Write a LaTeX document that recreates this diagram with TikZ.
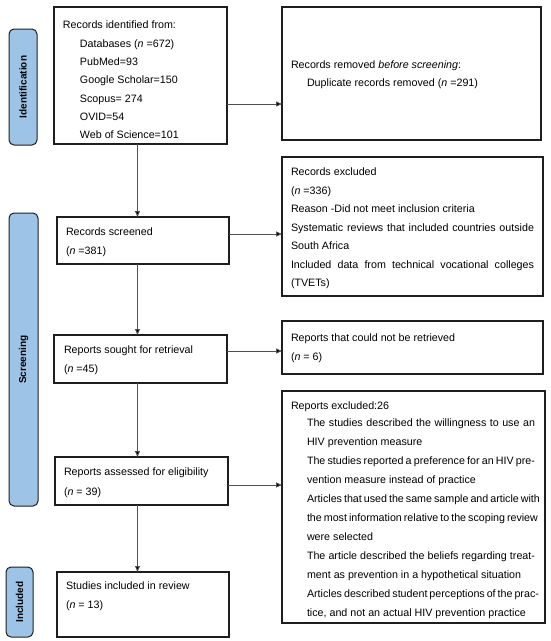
\documentclass[tikz,border=0pt]{standalone}
\usepackage{fontspec}
\setmainfont{Liberation Sans}
\usetikzlibrary{arrows.meta}
\definecolor{lblue}{RGB}{157,196,231}
\definecolor{bord}{RGB}{30,30,30}
\definecolor{conn}{RGB}{80,80,80}
\tikzset{
  box/.style={draw=bord, line width=1.1pt, inner sep=0pt, outer sep=0pt, fill=white},
  phase/.style={draw=bord, line width=1pt, fill=lblue, rounded corners=5pt, inner sep=0pt, outer sep=0pt},
  phasetxt/.style={rotate=90, font=\bfseries\fontsize{10}{12}\selectfont},
  txt/.style={anchor=base west, inner sep=0pt, outer sep=0pt, font=\fontsize{10.7}{13}\selectfont},
  arr/.style={draw=conn, line width=0.9pt, -{Triangle[length=6pt,width=5pt,fill=black]}}
}
\begin{document}
\begin{tikzpicture}[x=1pt,y=-1pt]
\useasboundingbox (0,0) rectangle (550,641);
% phase labels
\node[phase, minimum width=28pt, minimum height=116pt] (idl) at (23,87) {};
\node[phasetxt] at (idl.center) {Identification};
\node[phase, minimum width=29pt, minimum height=293pt] (scl) at (23.5,359.5) {};
\node[phasetxt] at (scl.center) {Screening};
\node[phase, minimum width=27pt, minimum height=70pt] (inl) at (19.5,602) {};
\node[phasetxt] at (inl.center) {Included};
% boxes
\node[box, minimum width=173pt, minimum height=137pt] (ident) at (140.5,75.5) {};
\node[box, minimum width=259pt, minimum height=133pt] (dup) at (411.5,73.5) {};
\node[box, minimum width=172pt, minimum height=47pt] (scr) at (143,240.5) {};
\node[box, minimum width=261pt, minimum height=139pt] (excl) at (412.5,226.5) {};
\node[box, minimum width=173pt, minimum height=48pt] (sought) at (140.5,359) {};
\node[box, minimum width=261pt, minimum height=53pt] (notret) at (412.5,347.5) {};
\node[box, minimum width=263pt, minimum height=232pt] (rexcl) at (413.5,507) {};
\node[box, minimum width=173pt, minimum height=48pt] (assess) at (141.5,481) {};
\node[box, minimum width=172pt, minimum height=65pt] (incl) at (143,604.5) {};
% texts
\node[txt] (t1) at (63,28.7) {\vtop{\baselineskip=18.33pt
  \hbox{Records identified from:}
  \hbox{\kern17pt Databases (\textit{n} =672)}
  \hbox{\kern17pt PubMed=93}
  \hbox{\kern17pt Google Scholar=150}
  \hbox{\kern17pt Scopus= 274}
  \hbox{\kern17pt OVID=54}
  \hbox{\kern17pt Web of Science=101}}};
\node[txt] (t2) at (291,68.7) {\vtop{\baselineskip=18pt
  \hbox{Records removed \textit{before screening}:}
  \hbox{\kern16pt Duplicate records removed (\textit{n} =291)}}};
\node[txt] (t3) at (66,235.7) {\vtop{\baselineskip=19pt
  \hbox{Records screened}
  \hbox{(\textit{n} =381)}}};
\node[txt] (t4) at (291,175.7) {\vtop{\baselineskip=18.5pt
  \hbox{Records excluded}
  \hbox{(\textit{n} =336)}
  \hbox{Reason -Did not meet inclusion criteria}
  \hbox to 243pt{Systematic reviews that included countries outside}
  \hbox{South Africa}
  \hbox to 243pt{Included data from technical vocational colleges}
  \hbox{(TVETs)}}};
\node[txt] (t5) at (64,353.7) {\vtop{\baselineskip=19pt
  \hbox{Reports sought for retrieval}
  \hbox{(\textit{n} =45)}}};
\node[txt] (t6) at (291,341.7) {\vtop{\baselineskip=19pt
  \hbox{Reports that could not be retrieved}
  \hbox{(\textit{n} = 6)}}};
\node[txt] (t7) at (291,409.7) {\vtop{\baselineskip=19pt
  \hbox{Reports excluded:26}\vskip-2pt
  \hbox{\kern16pt\hbox to 228pt{The studies described the willingness to use an}}
  \hbox{\kern16pt HIV prevention measure}
  \hbox{\kern16pt\hbox to 228pt{The studies reported a preference for an HIV pre-}}
  \hbox{\kern16pt vention measure instead of practice}
  \hbox{\kern16pt\hbox to 228pt{Articles that used the same sample and article with}}
  \hbox{\kern16pt\hbox to 228pt{the most information relative to the scoping review}}
  \hbox{\kern16pt were selected}
  \hbox{\kern16pt\hbox to 228pt{The article described the beliefs regarding treat-}}
  \hbox{\kern16pt ment as prevention in a hypothetical situation}
  \hbox{\kern16pt\hbox to 228pt{Articles described student perceptions of the prac-}}
  \hbox{\kern16pt tice, and not an actual HIV prevention practice}}};
\node[txt] (t8) at (64,475.7) {\vtop{\baselineskip=19.5pt
  \hbox{Reports assessed for eligibility}
  \hbox{(\textit{n} = 39)}}};
\node[txt] (t9) at (66,589.7) {\vtop{\baselineskip=19pt
  \hbox{Studies included in review}
  \hbox{(\textit{n} = 13)}}};
% connector guide coordinates
\coordinate (vx) at (137.5,0);
\coordinate (h1) at (0,104);
\coordinate (h2) at (0,234);
\coordinate (h3) at (0,351);
\coordinate (h4) at (0,485);
% connectors
\draw[arr] (ident.south -| vx) -- (scr.north -| vx);
\draw[arr] (scr.south -| vx) -- (sought.north -| vx);
\draw[arr] (sought.south -| vx) -- (assess.north -| vx);
\draw[arr] (assess.south -| vx) -- (incl.north -| vx);
\draw[arr] (ident.east |- h1) -- (dup.west |- h1);
\draw[arr] (scr.east |- h2) -- (excl.west |- h2);
\draw[arr] (sought.east |- h3) -- (notret.west |- h3);
\draw[arr] (assess.east |- h4) -- (rexcl.west |- h4);
\end{tikzpicture}
\end{document}
